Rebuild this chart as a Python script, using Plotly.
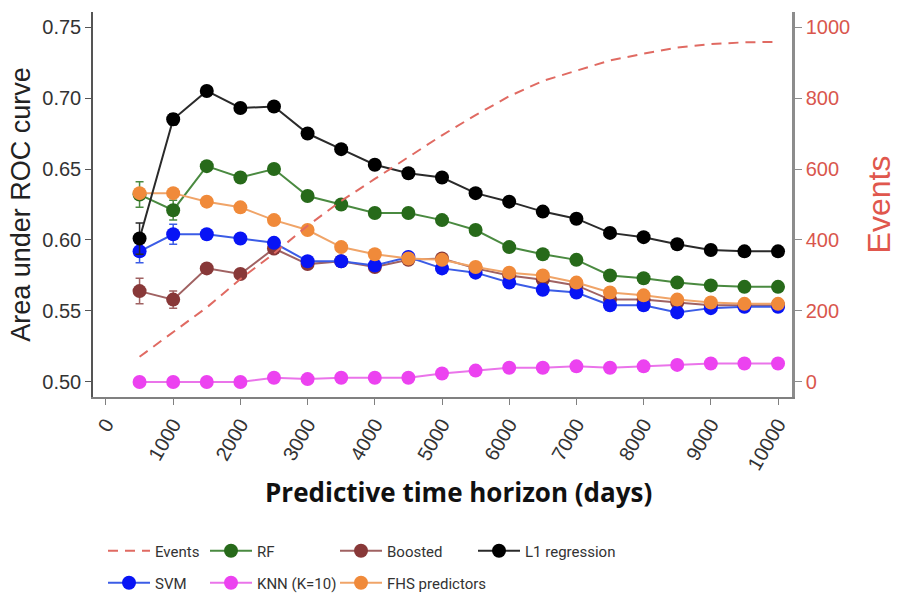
import plotly.graph_objects as go

days = [500, 1000, 1500, 2000, 2500, 3000, 3500, 4000, 4500, 5000,
        5500, 6000, 6500, 7000, 7500, 8000, 8500, 9000, 9500, 10000]

events = [71, 140, 210, 290, 362, 440, 510, 572, 633, 695,
          752, 805, 848, 878, 906, 925, 942, 952, 957, 958]

auc_l1 = [0.601, 0.685, 0.705, 0.693, 0.694, 0.675, 0.664, 0.653, 0.647, 0.644,
          0.633, 0.627, 0.620, 0.615, 0.605, 0.602, 0.597, 0.593, 0.592, 0.592]
err_l1 = [0.011, 0.004, 0.003, 0.003, 0.003, 0.003, 0.003, 0.003, 0.002, 0.002,
          0.002, 0.002, 0.002, 0.002, 0.002, 0.002, 0.002, 0.002, 0.002, 0.002]

auc_rf = [0.632, 0.621, 0.652, 0.644, 0.650, 0.631, 0.625, 0.619, 0.619, 0.614,
          0.607, 0.595, 0.590, 0.586, 0.575, 0.573, 0.570, 0.568, 0.567, 0.567]
err_rf = [0.009, 0.007, 0.003, 0.003, 0.003, 0.003, 0.003, 0.002, 0.002, 0.002,
          0.002, 0.002, 0.002, 0.002, 0.002, 0.002, 0.002, 0.002, 0.002, 0.002]

auc_boost = [0.564, 0.558, 0.580, 0.576, 0.594, 0.583, 0.585, 0.581, 0.586, 0.587,
             0.580, 0.575, 0.572, 0.568, 0.558, 0.558, 0.556, 0.554, 0.554, 0.554]
err_boost = [0.009, 0.006, 0.003, 0.003, 0.003, 0.003, 0.002, 0.002, 0.002, 0.002,
             0.002, 0.002, 0.002, 0.002, 0.002, 0.002, 0.002, 0.002, 0.002, 0.002]

auc_svm = [0.592, 0.604, 0.604, 0.601, 0.598, 0.585, 0.585, 0.582, 0.588, 0.580,
           0.577, 0.570, 0.565, 0.563, 0.554, 0.554, 0.549, 0.552, 0.553, 0.553]
err_svm = [0.008, 0.007, 0.003, 0.003, 0.003, 0.003, 0.002, 0.002, 0.002, 0.002,
           0.002, 0.002, 0.002, 0.002, 0.002, 0.002, 0.002, 0.002, 0.002, 0.002]

auc_knn = [0.500, 0.500, 0.500, 0.500, 0.503, 0.502, 0.503, 0.503, 0.503, 0.506,
           0.508, 0.510, 0.510, 0.511, 0.510, 0.511, 0.512, 0.513, 0.513, 0.513]
err_knn = [0.001] * 20

auc_fhs = [0.633, 0.633, 0.627, 0.623, 0.614, 0.607, 0.595, 0.590, 0.587, 0.586,
           0.581, 0.577, 0.575, 0.570, 0.563, 0.561, 0.558, 0.556, 0.555, 0.555]
err_fhs = [0.003, 0.003, 0.003, 0.003, 0.002, 0.002, 0.002, 0.002, 0.002, 0.002,
           0.002, 0.002, 0.002, 0.002, 0.002, 0.002, 0.002, 0.002, 0.002, 0.002]

x_ticks = list(range(0, 10001, 1000))
x_tick_labels = [str(v) for v in x_ticks]
y_ticks = [0.50, 0.55, 0.60, 0.65, 0.70, 0.75]
y2_ticks = [0, 200, 400, 600, 800, 1000]

series = [
    # name, values, errors, marker colour, line colour, legend id
    ("RF", auc_rf, err_rf, "#276a1a", "#4a8a40", "legend2"),
    ("Boosted", auc_boost, err_boost, "#883838", "#a06262", "legend3"),
    ("SVM", auc_svm, err_svm, "#0814f5", "#3b5ce6", "legend5"),
    ("KNN (K=10)", auc_knn, err_knn, "#ec42f0", "#ea74ea", "legend6"),
    ("FHS predictors", auc_fhs, err_fhs, "#f08a3a", "#f0a468", "legend7"),
    ("L1 regression", auc_l1, err_l1, "#000000", "#2a2a2a", "legend4"),
]

fig = go.Figure()

fig.add_trace(go.Scatter(
    x=days, y=events, name="Events", yaxis="y2", mode="lines",
    line=dict(color="#e06a62", width=2, dash="10px,7px"), legend="legend",
))

for name, vals, errs, mc, lc, lg in series:
    fig.add_trace(go.Scatter(
        x=days, y=vals, name=name, mode="lines+markers",
        line=dict(color=lc, width=2),
        marker=dict(color=mc, size=14),
        error_y=dict(type="data", array=errs, color=lc, thickness=1.5, width=4),
        legend=lg,
    ))

L, R, T, B = 93, 105, 12, 200
W, H = 897, 597
pw, ph = W - L - R, H - T - B

def px(xp):
    return (xp - L) / pw

def py(yp):
    return (H - B - yp) / ph

leg_font = dict(family="Roboto, Arial, sans-serif", size=15, color="#333333")
row1, row2 = 551, 583
col = [103, 205, 335, 473]
legend_pos = {
    "legend": (col[0], row1), "legend2": (col[1], row1),
    "legend3": (col[2], row1), "legend4": (col[3], row1),
    "legend5": (col[0], row2), "legend6": (col[1], row2),
    "legend7": (col[2], row2),
}
legends = {}
for k, (xx, yy) in legend_pos.items():
    legends[k] = dict(x=px(xx), y=py(yy), xanchor="left", yanchor="middle",
                      orientation="v", font=leg_font, itemwidth=42,
                      bgcolor="rgba(0,0,0,0)", borderwidth=0)

tick_font = dict(family="Liberation Sans, Arial, sans-serif", size=20, color="#333333")

fig.update_layout(
    width=W, height=H,
    margin=dict(l=L, r=R, t=T, b=B, autoexpand=False),
    paper_bgcolor="white", plot_bgcolor="white",
    showlegend=True,
    xaxis=dict(
        range=[-193, 10208], tickvals=x_ticks, ticktext=x_tick_labels, tickangle=-60,
        tickfont=tick_font, showgrid=False, zeroline=False,
        showline=True, linecolor="#808080", linewidth=1.5,
        ticks="outside", ticklen=6, tickcolor="#808080",
    ),
    yaxis=dict(
        range=[0.4894, 0.7606], tickvals=y_ticks, tickformat=".2f",
        tickfont=tick_font, showgrid=False, zeroline=False,
        showline=True, linecolor="#555555", linewidth=1.5,
        ticks="outside", ticklen=6, tickcolor="#555555",
        title=dict(text="Area under ROC curve",
                   font=dict(family="Liberation Sans, Arial, sans-serif", size=27, color="#222222"),
                   standoff=4),
    ),
    yaxis2=dict(
        overlaying="y", side="right",
        range=[-42.4, 1042.4], tickvals=y2_ticks,
        tickfont=dict(family="Liberation Sans, Arial, sans-serif", size=20, color="#d9564d"),
        showgrid=False, zeroline=False,
        showline=True, linecolor="#8c8c8c", linewidth=2.5,
        ticks="outside", ticklen=7, tickcolor="#8c8c8c",
        title=dict(text="Events",
                   font=dict(family="Liberation Sans, Arial, sans-serif", size=32, color="#e0574d"),
                   standoff=22),
    ),
    annotations=[dict(
        text="Predictive time horizon (days)", xref="paper", yref="paper",
        x=px(458), y=py(492), xanchor="center", yanchor="middle", showarrow=False,
        font=dict(family="Open Sans, sans-serif", size=26, color="#111111", weight=700),
    )],
    **legends,
)

fig.write_html("out.html", config={"displayModeBar": False},
               post_script="document.body.style.margin='0';")
